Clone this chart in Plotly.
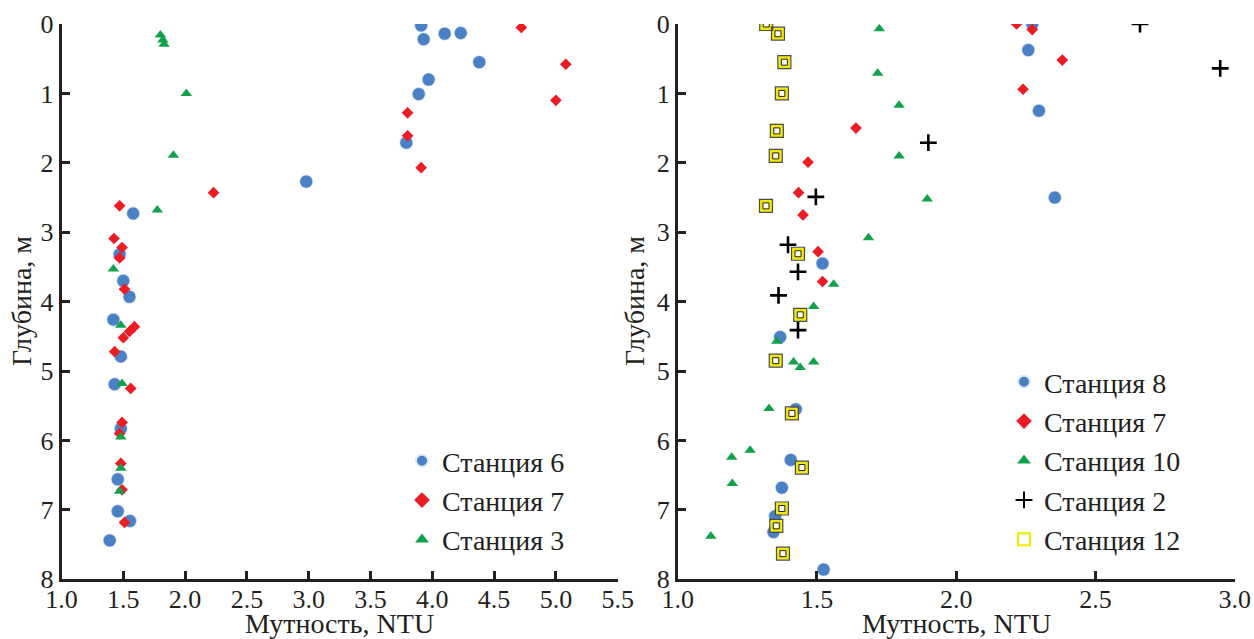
import plotly.graph_objects as go

# ---------------- Left panel data ----------------
st6_x = [3.91, 3.93, 4.10, 4.23, 4.38, 3.97, 3.89, 3.79, 2.98, 1.58, 1.47, 1.50, 1.55,
         1.42, 1.48, 1.43, 1.48, 1.455, 1.455, 1.554, 1.39]
st6_y = [0.02, 0.22, 0.14, 0.13, 0.55, 0.80, 1.01, 1.71, 2.27, 2.73, 3.32, 3.70, 3.93,
         4.26, 4.79, 5.19, 5.83, 6.56, 7.02, 7.16, 7.44]

st7L_x = [4.72, 5.08, 5.00, 3.80, 3.80, 3.91, 2.23, 1.47, 1.425, 1.49, 1.47, 1.51, 1.59,
          1.55, 1.50, 1.43, 1.56, 1.49, 1.47, 1.48, 1.49, 1.51]
st7L_y = [0.05, 0.58, 1.10, 1.28, 1.61, 2.07, 2.43, 2.62, 3.09, 3.22, 3.37, 3.82, 4.36,
          4.43, 4.52, 4.72, 5.25, 5.74, 5.90, 6.33, 6.71, 7.18]

st3_x = [1.80, 1.82, 1.83, 2.01, 1.905, 1.775, 1.42, 1.48, 1.49, 1.48, 1.48, 1.47]
st3_y = [0.16, 0.23, 0.29, 1.00, 1.89, 2.68, 3.53, 4.34, 5.18, 5.95, 6.40, 6.73]

# ---------------- Right panel data ----------------
st8_x = [2.273, 2.259, 2.297, 2.354, 1.52, 1.368, 1.424, 1.406, 1.374, 1.35, 1.344, 1.524]
st8_y = [0.00, 0.375, 1.25, 2.50, 3.45, 4.51, 5.55, 6.28, 6.68, 7.09, 7.32, 7.86]

st7R_x = [2.217, 2.273, 2.381, 2.24, 1.64, 1.468, 1.434, 1.45, 1.504, 1.52, 1.44]
st7R_y = [0.00, 0.08, 0.52, 0.94, 1.50, 1.99, 2.43, 2.75, 3.28, 3.71, 4.20]

st10_x = [1.724, 1.718, 1.795, 1.795, 1.896, 1.685, 1.56, 1.488, 1.356, 1.416, 1.44,
          1.488, 1.328, 1.26, 1.194, 1.196, 1.119]
st10_y = [0.07, 0.71, 1.17, 1.90, 2.52, 3.08, 3.75, 4.07, 4.57, 4.87, 4.95,
          4.87, 5.54, 6.14, 6.24, 6.62, 7.38]

st2_x = [2.66, 2.948, 1.90, 1.496, 1.396, 1.432, 1.362, 1.432]
st2_y = [0.00, 0.64, 1.71, 2.49, 3.18, 3.57, 3.91, 4.41]

st12_x = [1.318, 1.36, 1.383, 1.374, 1.356, 1.352, 1.317, 1.432, 1.44, 1.352, 1.41,
          1.446, 1.374, 1.354, 1.378]
st12_y = [0.00, 0.14, 0.55, 1.00, 1.54, 1.90, 2.62, 3.31, 4.19, 4.85, 5.61,
          6.39, 6.98, 7.23, 7.63]

left_ticks = [1.0, 1.5, 2.0, 2.5, 3.0, 3.5, 4.0, 4.5, 5.0, 5.5]
right_ticks = [1.0, 1.5, 2.0, 2.5, 3.0]
depth_ticks = [0, 1, 2, 3, 4, 5, 6, 7, 8]

x_title = "Мутность, NTU"
y_title = "Глубина, м"

BLUE = "#4a80c4"
RED = "#ec1c24"
GREEN = "#11a14b"
YELLOW = "#f2ea00"
FONT = "Times New Roman, Liberation Serif, DejaVu Serif, serif"
TXT = "#231f20"
FS_TICK = 26
FS_TEXT = 28

fig = go.Figure()

def circ(x, y, name, xa, ya, leg):
    return go.Scatter(x=x, y=y, mode="markers", name=name, xaxis=xa, yaxis=ya, legend=leg,
                      legendgroup=leg + name,
                      marker=dict(symbol="circle", size=13, color=BLUE,
                                  line=dict(width=0.6, color="#dce8f5")))

def diam(x, y, name, xa, ya, leg):
    return go.Scatter(x=x, y=y, mode="markers", name=name, xaxis=xa, yaxis=ya, legend=leg,
                      legendgroup=leg + name,
                      marker=dict(symbol="diamond", size=9, color=RED, line=dict(width=0)))

def tri(x, y, name, xa, ya, leg):
    return go.Scatter(x=x, y=y, mode="markers", name=name, xaxis=xa, yaxis=ya, legend=leg,
                      legendgroup=leg + name,
                      marker=dict(symbol="triangle-up", size=10, color=GREEN, line=dict(width=0)))

# left panel
fig.add_trace(circ(st6_x, st6_y, "Станция 6", "x", "y", "legend"))
fig.add_trace(diam(st7L_x, st7L_y, "Станция 7", "x", "y", "legend"))
fig.add_trace(tri(st3_x, st3_y, "Станция 3", "x", "y", "legend"))

# right panel
fig.add_trace(circ(st8_x, st8_y, "Станция 8", "x2", "y2", "legend2"))
fig.add_trace(diam(st7R_x, st7R_y, "Станция 7", "x2", "y2", "legend2"))
fig.add_trace(tri(st10_x, st10_y, "Станция 10", "x2", "y2", "legend2"))
fig.add_trace(go.Scatter(x=st2_x, y=st2_y, mode="markers", name="Станция 2", xaxis="x2", yaxis="y2",
                         legend="legend2", legendgroup="legend2st2",
                         marker=dict(symbol="cross-thin", size=12, color="black",
                                     line=dict(width=2.6, color="black"))))
fig.add_trace(go.Scatter(x=st12_x, y=st12_y, mode="markers", name="Станция 12", xaxis="x2", yaxis="y2",
                         legend="legend2", legendgroup="legend2st12",
                         marker=dict(symbol="square", size=9, color="white",
                                     line=dict(width=3, color=YELLOW))))
fig.add_trace(go.Scatter(x=st12_x, y=st12_y, mode="markers", showlegend=False, xaxis="x2", yaxis="y2",
                         hoverinfo="skip",
                         marker=dict(symbol="square-open", size=13, color="#4a4a4a",
                                     line=dict(width=1.2, color="#4a4a4a"))))
fig.add_trace(go.Scatter(x=st12_x, y=st12_y, mode="markers", showlegend=False, xaxis="x2", yaxis="y2",
                         hoverinfo="skip",
                         marker=dict(symbol="square-open", size=6, color="#222222",
                                     line=dict(width=1, color="#222222"))))

W, H = 1254, 639

def fx(px):
    return px / W

def fy(py):
    return 1 - py / H

xl0, xl1 = fx(61.5), fx(617.7)
xr0, xr1 = fx(677.7), fx(1234.7)
y0, y1 = fy(579.3), fy(24)

axis_common = dict(showline=True, linecolor=TXT, linewidth=2.5, ticks="inside", ticklen=9,
                   tickwidth=2.5, tickcolor=TXT, showgrid=False, zeroline=False,
                   tickfont=dict(family=FONT, size=FS_TICK, color=TXT), automargin=False)

afont = dict(family=FONT, size=FS_TEXT, color=TXT)
annots = [
    dict(text=x_title, x=(xl0 + xl1) / 2, y=fy(623), xref="paper", yref="paper",
         xanchor="center", yanchor="middle", showarrow=False, font=afont),
    dict(text=x_title, x=(xr0 + xr1) / 2, y=fy(623), xref="paper", yref="paper",
         xanchor="center", yanchor="middle", showarrow=False, font=afont),
    dict(text=y_title, x=fx(21), y=fy(301), xref="paper", yref="paper", textangle=-90,
         xanchor="center", yanchor="middle", showarrow=False, font=afont),
    dict(text=y_title, x=fx(634), y=fy(301), xref="paper", yref="paper", textangle=-90,
         xanchor="center", yanchor="middle", showarrow=False, font=afont),
]

fig.update_layout(
    width=W, height=H,
    margin=dict(l=0, r=0, t=0, b=0),
    paper_bgcolor="white", plot_bgcolor="white",
    font=dict(family=FONT, size=FS_TEXT, color=TXT),
    xaxis=dict(domain=[xl0, xl1], anchor="y", range=[1.0, 5.5], tickvals=left_ticks,
               ticktext=[f"{v:.1f}" for v in left_ticks], ticklabelstandoff=-5, **axis_common),
    yaxis=dict(domain=[y0, y1], anchor="x", range=[8, 0], tickvals=depth_ticks, **axis_common),
    xaxis2=dict(domain=[xr0, xr1], anchor="y2", range=[1.0, 3.0], tickvals=right_ticks,
                ticktext=[f"{v:.1f}" for v in right_ticks], ticklabelstandoff=-5, **axis_common),
    yaxis2=dict(domain=[y0, y1], anchor="x2", range=[8, 0], tickvals=depth_ticks, **axis_common),
    annotations=annots,
    legend=dict(x=fx(402), y=fy(436), xanchor="left", yanchor="top",
                bgcolor="rgba(0,0,0,0)", font=afont,
                tracegroupgap=0, itemsizing="constant"),
    legend2=dict(x=fx(1004), y=fy(357), xanchor="left", yanchor="top",
                 bgcolor="rgba(0,0,0,0)", font=afont,
                 tracegroupgap=0, itemsizing="constant"),
    showlegend=True,
)

fig.write_html(
    "out.html",
    config={"displayModeBar": False},
    post_script="document.body.style.margin='0';document.body.style.padding='0';"
                "document.body.style.overflow='hidden';",
)
